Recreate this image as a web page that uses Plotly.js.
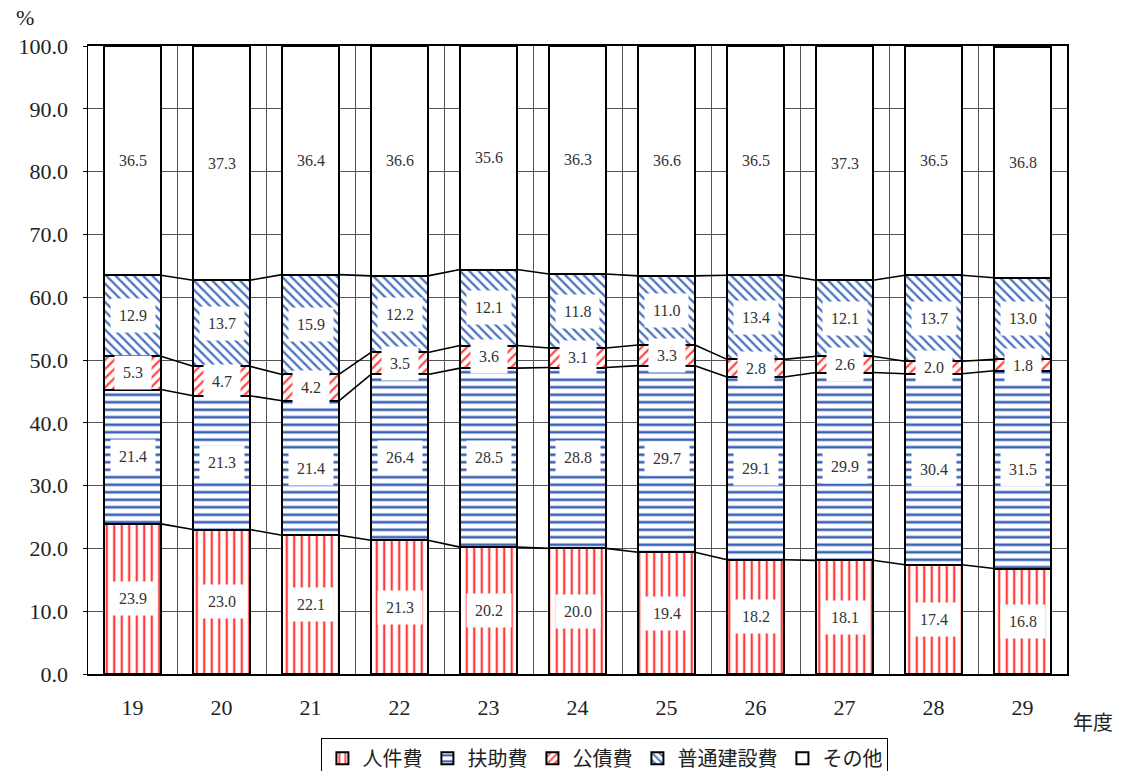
<!DOCTYPE html>
<html>
<head>
<meta charset="utf-8">
<script src="https://cdn.plot.ly/plotly-3.0.1.min.js"></script>
<style>html,body{margin:0;padding:0;background:#fff;}#chart{width:1124px;height:771px;}</style>
</head>
<body>
<div id="chart"></div>
<script>
const years = ['19','20','21','22','23','24','25','26','27','28','29'];
const jinkenhi = [23.9,23.0,22.1,21.3,20.2,20.0,19.4,18.2,18.1,17.4,16.8];
const fujohi   = [21.4,21.3,21.4,26.4,28.5,28.8,29.7,29.1,29.9,30.4,31.5];
const kosaihi  = [5.3,4.7,4.2,3.5,3.6,3.1,3.3,2.8,2.6,2.0,1.8];
const kensetsu = [12.9,13.7,15.9,12.2,12.1,11.8,11.0,13.4,12.1,13.7,13.0];
const sonota   = [36.5,37.3,36.4,36.6,35.6,36.3,36.6,36.5,37.3,36.5,36.8];
const seriesNames = ['人件費','扶助費','公債費','普通建設費','その他'];
const yTicks = [0,10,20,30,40,50,60,70,80,90,100];

const series = [jinkenhi, fujohi, kosaihi, kensetsu, sonota];
const xs = years.map((_, i) => i);
const BW = 0.64;
const numFont = 'Liberation Serif, DejaVu Serif, serif';
const jpFont = 'Noto Sans CJK JP, sans-serif';

const patterns = [
  {shape:'|', fgcolor:'#ff3b3b', bgcolor:'#ffffff', size:7.5, solidity:0.3},
  {shape:'-', fgcolor:'#3a62b8', bgcolor:'#ffffff', size:7.5, solidity:0.35},
  {shape:'/', fgcolor:'#ff4a4a', bgcolor:'#ffffff', size:6.5, solidity:0.35},
  {shape:'\\', fgcolor:'#4a72c4', bgcolor:'#ffffff', size:6.5, solidity:0.35},
  null
];

const traces = series.map((vals, k) => {
  const m = {color:'#ffffff', line:{color:'#000000', width:2}};
  if (patterns[k]) m.pattern = Object.assign({fillmode:'replace'}, patterns[k]);
  return {type:'bar', name:seriesNames[k], x:xs, y:vals, width:BW, marker:m, hoverinfo:'skip'};
});

// cumulative tops
const cum = [];
let run = xs.map(() => 0);
series.forEach((vals) => {
  run = run.map((r, i) => r + vals[i]);
  cum.push(run.slice());
});

// series lines between bars (Excel-style)
for (let k = 0; k < 4; k++) {
  const lx = [], ly = [];
  for (let i = 0; i < xs.length - 1; i++) {
    lx.push(xs[i] + BW/2, xs[i+1] - BW/2, null);
    ly.push(cum[k][i], cum[k][i+1], null);
  }
  traces.push({type:'scatter', mode:'lines', x:lx, y:ly, line:{color:'#000', width:1.6},
    showlegend:false, hoverinfo:'skip'});
}
// dummy trace for the grid axis
traces.push({type:'scatter', mode:'none', x:[0], y:[0], xaxis:'x2', showlegend:false, hoverinfo:'skip'});

const annotations = [];
series.forEach((vals, k) => {
  vals.forEach((v, i) => {
    annotations.push({x:xs[i], y:cum[k][i] - v/2, xref:'x', yref:'y', text:v.toFixed(1),
      showarrow:false, bgcolor:'#ffffff', borderpad:8,
      font:{family:numFont, size:16, color:'#333'}});
  });
});
annotations.push({xref:'paper', yref:'paper', x:-0.064, y:1.045, xanchor:'center', yanchor:'middle',
  text:'%', showarrow:false, font:{family:numFont, size:22, color:'#222'}});
annotations.push({xref:'paper', yref:'paper', x:1.0266, y:-0.076, xanchor:'center', yanchor:'middle',
  text:'年度', showarrow:false, font:{family:jpFont, size:20, color:'#222'}});

const bounds = xs.slice(0, -1).map(i => i + 0.5);

const layout = {
  width:1124, height:771,
  margin:{l:88, r:57, t:46, b:97},
  paper_bgcolor:'#fff', plot_bgcolor:'#fff',
  barmode:'stack',
  showlegend:true,
  legend:{orientation:'h', traceorder:'normal', x:0.528, xanchor:'center',
    yref:'container', y:0.043, yanchor:'top',
    bordercolor:'#000', borderwidth:1, bgcolor:'#fff',
    font:{family:jpFont, size:20, color:'#222'}, itemclick:false, itemdoubleclick:false},
  xaxis:{type:'linear', range:[-0.5, 10.5], tickmode:'array', tickvals:xs, ticktext:years,
    showgrid:false, zeroline:false, showline:true, linecolor:'#000', linewidth:2, mirror:true,
    ticks:'', ticklabelstandoff:13, tickfont:{family:numFont, size:22, color:'#222'}},
  xaxis2:{type:'linear', overlaying:'x', anchor:'y', range:[-0.5, 10.5], tickmode:'array', tickvals:bounds,
    showgrid:true, gridcolor:'#555', gridwidth:1, showticklabels:false, ticks:'', zeroline:false, showline:false},
  yaxis:{range:[0, 100], tickmode:'array', tickvals:yTicks, ticktext:yTicks.map(v => v.toFixed(1)),
    showgrid:true, gridcolor:'#555', gridwidth:1, zeroline:false,
    showline:true, linecolor:'#000', linewidth:1.5, mirror:true,
    ticks:'outside', ticklen:4, tickcolor:'#000', ticklabelstandoff:10,
    tickfont:{family:numFont, size:22, color:'#222'}},
  annotations:annotations,
  hovermode:false
};

Plotly.newPlot('chart', traces, layout, {staticPlot:true, displayModeBar:false});
</script>
</body>
</html>
